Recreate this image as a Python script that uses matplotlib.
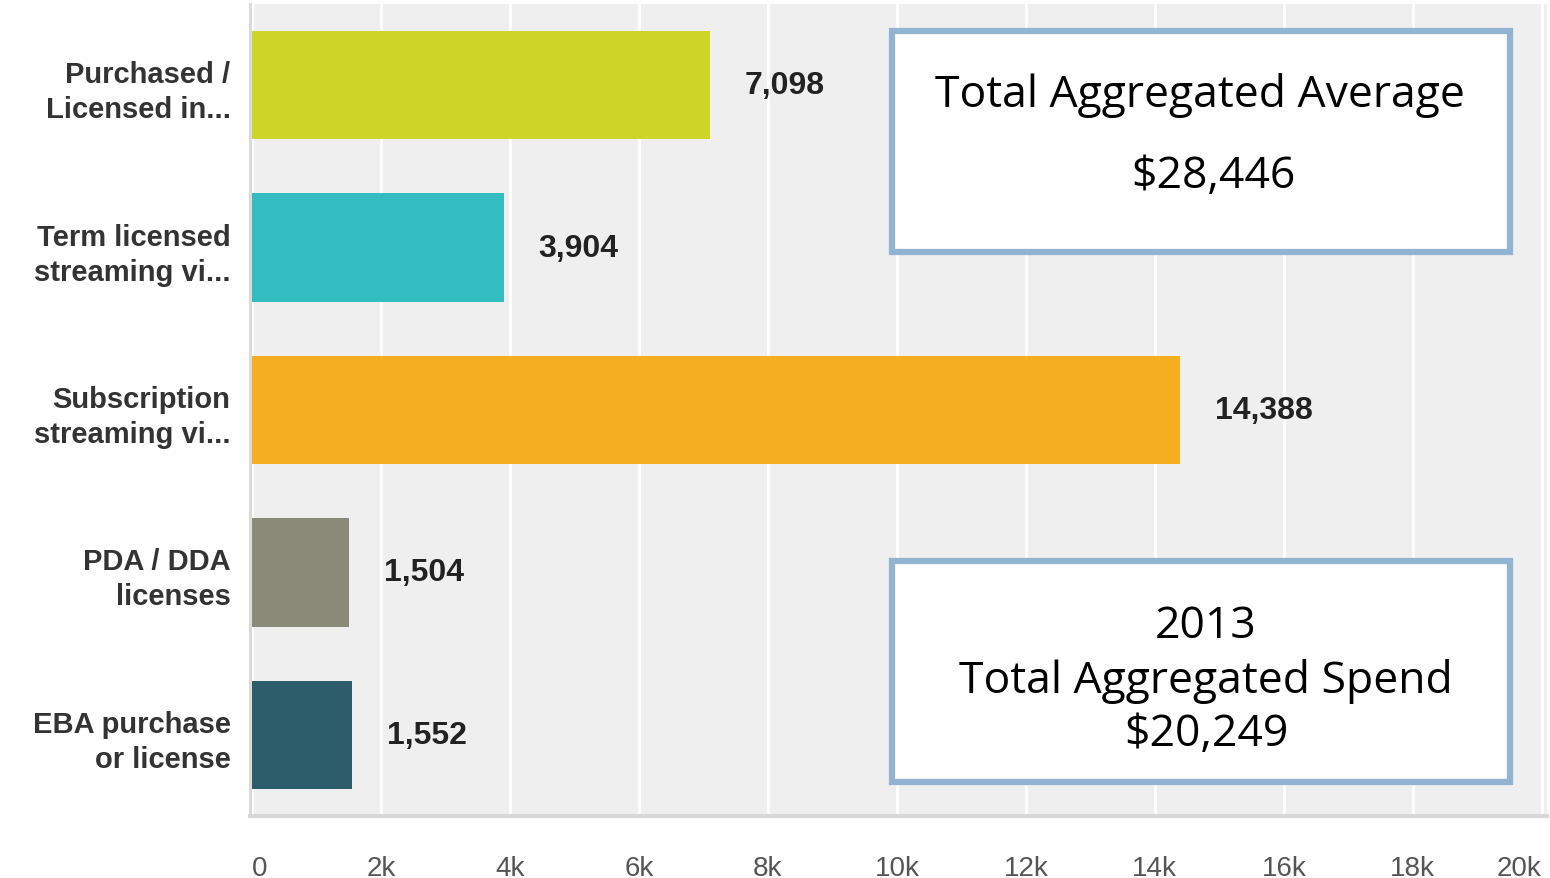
import matplotlib.pyplot as plt
from matplotlib.patches import Rectangle

categories = ['Purchased /\nLicensed in...', 'Term licensed\nstreaming vi...',
              'Subscription\nstreaming vi...', 'PDA / DDA\nlicenses',
              'EBA purchase\nor license']
values = [7098, 3904, 14388, 1504, 1552]
colors = ['#cdd628', '#33bdc0', '#f5ae1f', '#8a8a78', '#2d5d6a']
ticks = [0, 2000, 4000, 6000, 8000, 10000, 12000, 14000, 16000, 18000, 20000]
tick_labels = ['0', '2k', '4k', '6k', '8k', '10k', '12k', '14k', '16k', '18k', '20k']
box1_text = ['Total Aggregated Average', '$28,446']
box2_text = '2013\nTotal Aggregated Spend\n$20,249'

W, H = 1550, 879
fig = plt.figure(figsize=(15.5, 8.79), dpi=100)
ax = fig.add_axes([250 / W, 1 - 817 / H, 1297 / W, 812 / H])
ax.set_facecolor('#efefef')

y = list(range(len(categories)))
ax.barh(y, values, height=0.667, color=colors, zorder=3)
for yi, v in zip(y, values):
    ax.text(v + 540, yi, f'{v:,}', va='center', ha='left', fontsize=23,
            fontweight='bold', color='#222222', family='Liberation Sans')

ax.set_ylim(4.5, -0.5)
ax.set_xlim(-30, 20080)
ax.set_yticks(y)
ax.set_yticklabels(categories, fontsize=21, fontweight='bold', color='#333333',
                   family='Liberation Sans', linespacing=1.32)
ax.set_xticks(ticks)
ax.set_xticklabels(tick_labels, fontsize=20, color='#555555', family='Liberation Sans')
ax.get_xticklabels()[-1].set_horizontalalignment('right')
ax.get_xticklabels()[0].set_horizontalalignment('left')
ax.tick_params(axis='both', length=0)
ax.tick_params(axis='x', pad=28)
ax.tick_params(axis='y', pad=14)
ax.grid(axis='x', color='white', linewidth=2, zorder=1)
ax.grid(axis='y', visible=False)
for s in ['top', 'right']:
    ax.spines[s].set_visible(False)
ax.spines['left'].set_color('#d8d8d8')
ax.spines['left'].set_linewidth(2)
ax.spines['bottom'].set_color('#d8d8d8')
ax.spines['bottom'].set_linewidth(3)


def box(x0, y0, x1, y1):
    r = Rectangle((x0 / W, 1 - y1 / H), (x1 - x0) / W, (y1 - y0) / H,
                  transform=fig.transFigure, facecolor='white',
                  edgecolor='#93b3d3', linewidth=4.5, zorder=5)
    fig.patches.append(r)


box(892, 32, 1510, 253)
box(892, 562, 1510, 783)

fig.text(1200 / W, 1 - 95 / H, box1_text[0], ha='center', va='center',
         fontsize=32, family='Open Sans', zorder=6)
fig.text(1213 / W, 1 - 177 / H, box1_text[1], ha='center', va='center',
         fontsize=32, family='Open Sans', zorder=6)
fig.text(1206 / W, 1 - 681 / H, box2_text, ha='center', va='center',
         fontsize=32, family='Open Sans', linespacing=1.28, zorder=6)

fig.savefig('out.png', dpi=100)
